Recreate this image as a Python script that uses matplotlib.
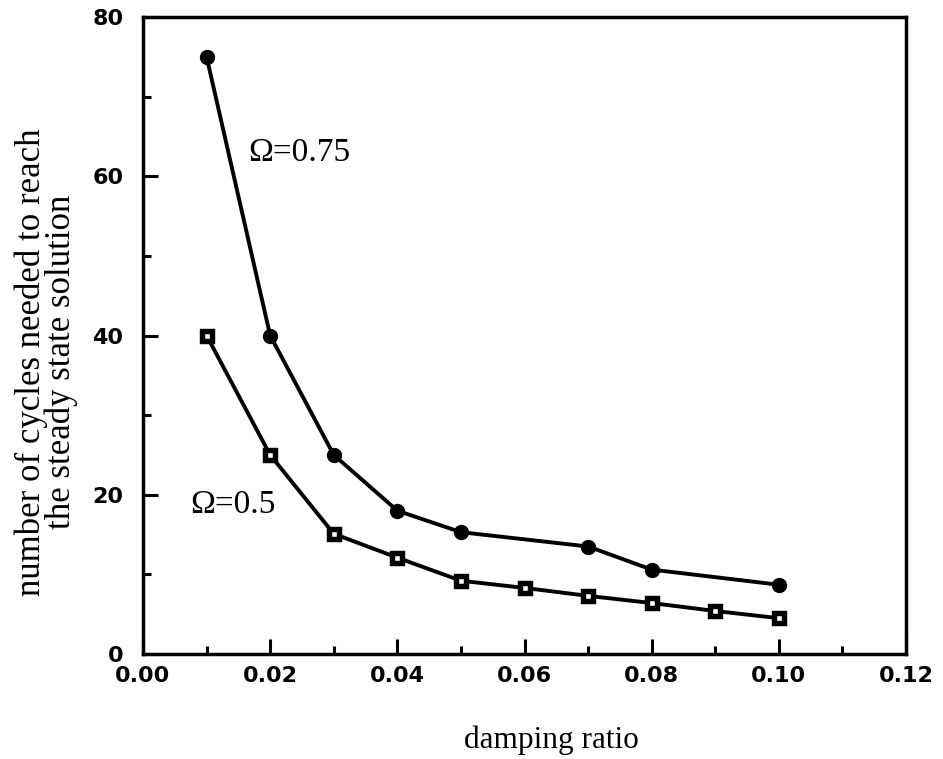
import matplotlib
matplotlib.use("Agg")
import matplotlib.pyplot as plt
from matplotlib.ticker import MultipleLocator

# Data
x_075 = [0.01, 0.02, 0.03, 0.04, 0.05, 0.07, 0.08, 0.10]
y_075 = [75.0, 40.0, 25.0, 18.0, 15.3, 13.5, 10.6, 8.7]
x_05 = [0.01, 0.02, 0.03, 0.04, 0.05, 0.06, 0.07, 0.08, 0.09, 0.10]
y_05 = [40.0, 25.0, 15.1, 12.1, 9.2, 8.3, 7.3, 6.4, 5.4, 4.5]
xticks = [0.00, 0.02, 0.04, 0.06, 0.08, 0.10, 0.12]
xticklabels = ["0.00", "0.02", "0.04", "0.06", "0.08", "0.10", "0.12"]
yticks = [0, 20, 40, 60, 80]
yticklabels = ["0", "20", "40", "60", "80"]

fig = plt.figure(figsize=(9.43, 7.59), dpi=100)
ax = fig.add_axes([143/943, 1-654/759, (906-143)/943, (654-17)/759])

ax.plot(x_075, y_075, color="black", lw=2.8, marker="o", ms=10, mfc="black", mec="black", zorder=3)
ax.plot(x_05, y_05, color="black", lw=2.8, marker="s", ms=7.2, mfc="white", mec="black", mew=3.9, zorder=3)

ax.set_xlim(0, 0.12)
ax.set_ylim(0, 80)
ax.set_xticks(xticks)
ax.set_xticklabels(xticklabels)
ax.set_yticks(yticks)
ax.set_yticklabels(yticklabels)
ax.xaxis.set_minor_locator(MultipleLocator(0.01))
ax.yaxis.set_minor_locator(MultipleLocator(10))
ax.tick_params(which="major", direction="in", length=11, width=2.2, top=False, right=False)
ax.tick_params(which="minor", direction="in", length=6, width=2.2, top=False, right=False)
ax.tick_params(axis="x", which="major", pad=9)
ax.tick_params(axis="y", which="major", pad=14)
for lab in ax.get_xticklabels() + ax.get_yticklabels():
    lab.set_fontfamily("DejaVu Sans")
    lab.set_fontweight("bold")
    lab.set_fontsize(16)
for s in ax.spines.values():
    s.set_linewidth(2.5)

serif = "Liberation Serif"
ax.text(0.0165, 63.0, "\u03A9=0.75", fontsize=24, family=serif, ha="left", va="center")
ax.text(0.0074, 18.7, "\u03A9=0.5", fontsize=24, family=serif, ha="left", va="center")

fig.text(551/943, 1-740/759, "damping ratio", fontsize=22.5, family=serif, ha="center", va="center")
fig.text(46/943, 1-362/759, "number of cycles needed to reach\nthe steady state solution",
         fontsize=25, family=serif, ha="center", va="center", rotation=90, linespacing=0.85)

fig.savefig("out.png", dpi=100)
